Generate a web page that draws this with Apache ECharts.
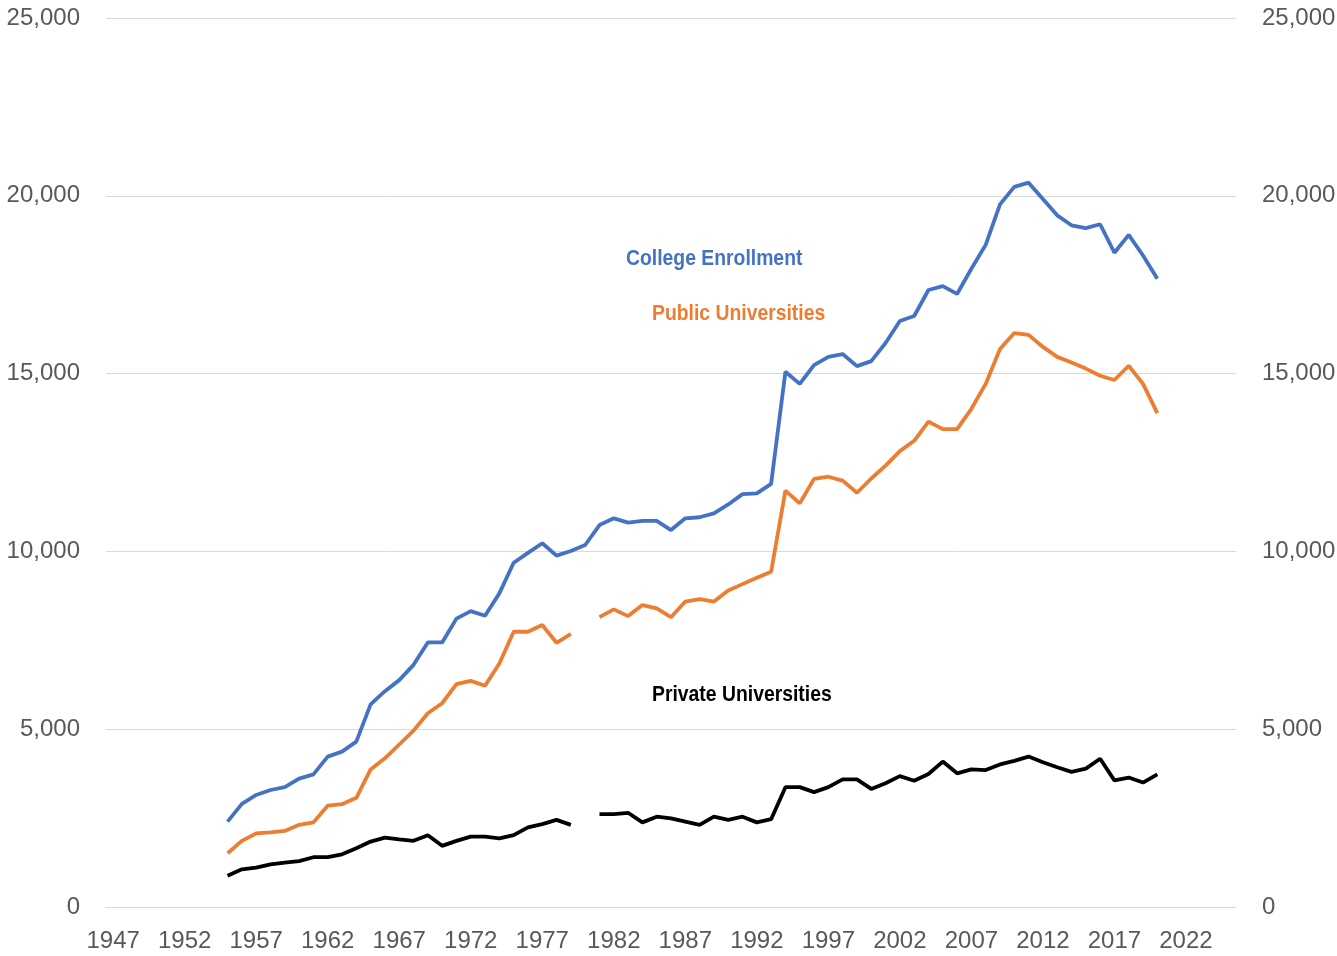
<!DOCTYPE html>
<html>
<head>
<meta charset="utf-8">
<script src="https://cdn.jsdelivr.net/npm/echarts@6/dist/echarts.min.js"></script>
<style>
    html, body {margin: 0; padding: 0; background: #fff;}
    #chart_main {width: 1337px; height: 956px;}
</style>
</head>
<body>
<div id="chart_main"></div>
<script>
// years on the axis, 1947 .. 2025
var years = [];
for (var y = 1947; y <= 2025; y++) years.push(String(y));

var firstYear = '1955';
// total enrollment (thousands), 1955 .. 2020
var collegeData = [2400, 2900, 3150, 3290, 3370, 3610, 3730, 4230, 4370, 4650,
    5700, 6070, 6380, 6810, 7440, 7440, 8110, 8320, 8190, 8820,
    9680, 9960, 10230, 9880, 10010, 10180, 10740, 10930, 10810, 10860,
    10860, 10600, 10930, 10960, 11070, 11320, 11610, 11630, 11900, 15050,
    14710, 15240, 15470, 15550, 15210, 15350, 15860, 16480, 16620, 17350,
    17460, 17240, 17950, 18620, 19760, 20250, 20370, 19910, 19450, 19170,
    19090, 19200, 18400, 18900, 18320, 17670];
// public universities, 1955 .. 2020 (1980 missing)
var publicData = [1510, 1860, 2070, 2100, 2140, 2310, 2380, 2850, 2890, 3070,
    3870, 4180, 4570, 4960, 5450, 5730, 6270, 6360, 6220, 6850,
    7740, 7740, 7930, 7430, 7680, null, 8150, 8370, 8180, 8490,
    8400, 8150, 8590, 8660, 8590, 8900, 9080, 9260, 9430, 11710,
    11350, 12040, 12100, 11990, 11650, 12050, 12410, 12820, 13110, 13650,
    13440, 13440, 14010, 14710, 15690, 16140, 16090, 15750, 15470, 15310,
    15140, 14940, 14820, 15220, 14710, 13890];
// private universities, 1955 .. 2020 (1980 missing)
var privateData = [880, 1060, 1110, 1200, 1250, 1290, 1400, 1400, 1480, 1650,
    1840, 1950, 1900, 1860, 2020, 1720, 1860, 1980, 1980, 1930,
    2020, 2240, 2330, 2450, 2310, null, 2610, 2610, 2650, 2380,
    2540, 2490, 2400, 2310, 2540, 2450, 2540, 2380, 2470, 3370,
    3370, 3230, 3370, 3590, 3590, 3320, 3480, 3680, 3550, 3740,
    4090, 3760, 3870, 3850, 4010, 4110, 4230, 4070, 3930, 3800,
    3890, 4170, 3560, 3640, 3500, 3730];

var yTicks = {min: 0, max: 25000, interval: 5000};

function padSeries(arr) {
    var out = [];
    var start = years.indexOf(firstYear);
    for (var i = 0; i < years.length; i++) {
        var k = i - start;
        out.push(k >= 0 && k < arr.length ? arr[k] : null);
    }
    return out;
}

var font = '"Liberation Sans", Arial, sans-serif';
var fmt = function (v) { return v.toLocaleString('en-US'); };
var axisText = {color: '#595959', fontSize: 24, fontFamily: font};

// series captions, narrowed a little to look like Arial Narrow
function caption(text, color, x, y) {
    return {
        type: 'text', x: x, y: y, scaleX: 0.88,
        style: {text: text, fill: color, font: 'bold 22px ' + font}
    };
}

var chart = echarts.init(document.getElementById('chart_main'));
var option = {
    animation: false,
    grid: {left: 106, right: 101, top: 18, bottom: 49, outerBoundsMode: 'none'},
    xAxis: {
        type: 'category',
        data: years,
        boundaryGap: true,
        axisLine: {lineStyle: {color: '#d9d9d9', width: 1}},
        axisTick: {show: false},
        axisLabel: Object.assign({interval: 4, margin: 22}, axisText)
    },
    yAxis: [
        {
            type: 'value', position: 'left',
            min: yTicks.min, max: yTicks.max, interval: yTicks.interval,
            axisLine: {show: false}, axisTick: {show: false},
            axisLabel: Object.assign({margin: 26, formatter: fmt}, axisText),
            splitLine: {lineStyle: {color: '#d9d9d9', width: 1}}
        },
        {
            type: 'value', position: 'right',
            min: yTicks.min, max: yTicks.max, interval: yTicks.interval,
            axisLine: {show: false}, axisTick: {show: false},
            axisLabel: Object.assign({margin: 26, formatter: fmt}, axisText),
            splitLine: {show: false}
        }
    ],
    series: [
        {name: 'College Enrollment', type: 'line', data: padSeries(collegeData), showSymbol: false,
            lineStyle: {color: '#4472c4', width: 3.8}, itemStyle: {color: '#4472c4'}},
        {name: 'Public Universities', type: 'line', data: padSeries(publicData), showSymbol: false,
            lineStyle: {color: '#ed7d31', width: 3.8}, itemStyle: {color: '#ed7d31'}},
        {name: 'Private Universities', type: 'line', data: padSeries(privateData), showSymbol: false,
            lineStyle: {color: '#000000', width: 3.8}, itemStyle: {color: '#000000'}}
    ],
    graphic: [
        caption('College Enrollment', '#4472c4', 626, 248),
        caption('Public Universities', '#ed7d31', 652, 303),
        caption('Private Universities', '#000000', 652, 684)
    ]
};
chart.setOption(option);
</script>
</body>
</html>
